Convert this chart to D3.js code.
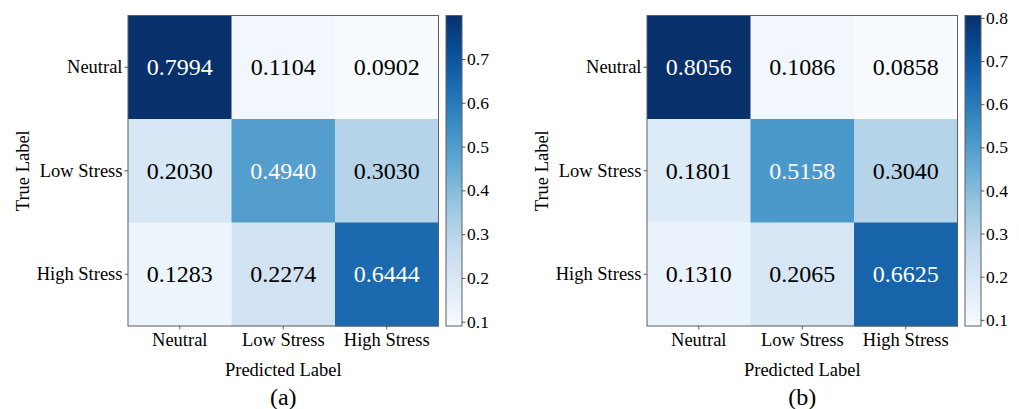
<!DOCTYPE html>
<html>
<head>
<meta charset="utf-8">
<script src="https://cdn.jsdelivr.net/npm/d3@7/dist/d3.min.js"></script>
<style>
  html, body { margin: 0; padding: 0; background: #fff; }
  svg { display: block; }
  text { font-family: "Liberation Serif", "Times New Roman", serif; fill: #000; }
</style>
</head>
<body>
<svg id="chart" width="1019" height="409"></svg>
<script>
// Class labels shared by both matrices
const classes = ["Neutral", "Low Stress", "High Stress"];

// Row-normalised confusion matrix values (rows = true, cols = predicted)
const matrixA = [
  [0.7994, 0.1104, 0.0902],
  [0.2030, 0.4940, 0.3030],
  [0.1283, 0.2274, 0.6444]
];
const matrixB = [
  [0.8056, 0.1086, 0.0858],
  [0.1801, 0.5158, 0.3040],
  [0.1310, 0.2065, 0.6625]
];

// Colour bar tick values
const colorbarTicks = [0.1, 0.2, 0.3, 0.4, 0.5, 0.6, 0.7, 0.8];

// Panel captions
const captions = ["(a)", "(b)"];

// Blues colour map, piecewise linear through the ColorBrewer stops
const bluesStops = ["#f7fbff","#deebf7","#c6dbef","#9ecae1","#6baed6","#4292c6","#2171b5","#08519c","#08306b"];
const bluesMap = d3.scaleLinear()
  .domain(d3.range(bluesStops.length).map(i => i / (bluesStops.length - 1)))
  .range(bluesStops)
  .interpolate(d3.interpolateRgb);

const svg = d3.select("#chart");
const defs = svg.append("defs");

const frameColor = "#5f5f5f";
const serif = "'Liberation Serif', 'Times New Roman', serif";

function drawPanel(matrix, caption, left, cbLeft, idx) {
  const top = 15.5, size = 310.5;
  const g = svg.append("g");

  const flat = matrix.flat();
  const vmin = d3.min(flat), vmax = d3.max(flat);
  const norm = d3.scaleLinear().domain([vmin, vmax]).range([0, 1]);
  const color = v => bluesMap(norm(v));
  const thresh = (vmin + vmax) / 2;

  const x = d3.scaleBand().domain(classes).range([left, left + size]);
  const y = d3.scaleBand().domain(classes).range([top, top + size]);

  const cells = [];
  matrix.forEach((row, i) => row.forEach((v, j) => cells.push({ t: classes[i], p: classes[j], v })));

  g.selectAll("rect.cell").data(cells).join("rect")
    .attr("class", "cell")
    .attr("x", d => x(d.p))
    .attr("y", d => y(d.t))
    .attr("width", x.bandwidth() + 0.5)
    .attr("height", y.bandwidth() + 0.5)
    .attr("fill", d => color(d.v));

  g.selectAll("text.val").data(cells).join("text")
    .attr("class", "val")
    .attr("x", d => x(d.p) + x.bandwidth() / 2)
    .attr("y", d => y(d.t) + y.bandwidth() / 2)
    .attr("text-anchor", "middle")
    .attr("dominant-baseline", "central")
    .style("font-size", "24px")
    .style("fill", d => d.v > thresh ? "#fff" : "#000")
    .text(d => d.v.toFixed(4));

  // frame
  g.append("rect")
    .attr("x", left).attr("y", top).attr("width", size).attr("height", size)
    .attr("fill", "none").attr("stroke", frameColor).attr("stroke-width", 1);

  // axes
  const xAxis = g.append("g")
    .attr("transform", `translate(0,${top + size})`)
    .call(d3.axisBottom(x).tickSize(3.5).tickPadding(1));
  const yAxis = g.append("g")
    .attr("transform", `translate(${left},0)`)
    .call(d3.axisLeft(y).tickSize(3.5).tickPadding(2));
  [xAxis, yAxis].forEach(a => {
    a.select(".domain").remove();
    a.selectAll(".tick line").attr("stroke", "#333").attr("stroke-width", 0.8);
    a.selectAll(".tick text").style("font-size", "18.5px").attr("fill", "#000")
      .style("font-family", serif);
  });
  yAxis.selectAll(".tick text").attr("dy", "0.32em");
  xAxis.selectAll(".tick text").attr("dy", "0.85em");

  // axis titles
  g.append("text")
    .attr("x", left + size / 2).attr("y", 376)
    .attr("text-anchor", "middle")
    .style("font-size", "18.5px")
    .text("Predicted Label");
  g.append("text")
    .attr("transform", `translate(${left - 99},${top + size / 2}) rotate(-90)`)
    .attr("text-anchor", "middle")
    .style("font-size", "18.5px")
    .text("True Label");

  // caption
  g.append("text")
    .attr("x", left + size / 2).attr("y", 405)
    .attr("text-anchor", "middle")
    .style("font-size", "24px")
    .text(caption);

  // colour bar
  const cbW = 16;
  const cbScale = d3.scaleLinear().domain([vmin, vmax]).range([top + size, top]);
  const gradId = "cbgrad" + idx;
  const grad = defs.append("linearGradient")
    .attr("id", gradId).attr("x1", 0).attr("y1", 1).attr("x2", 0).attr("y2", 0);
  d3.range(0, 1.0001, 0.05).forEach(t => {
    grad.append("stop").attr("offset", t).attr("stop-color", bluesMap(t));
  });
  g.append("rect")
    .attr("x", cbLeft).attr("y", top).attr("width", cbW).attr("height", size)
    .attr("fill", `url(#${gradId})`)
    .attr("stroke", frameColor).attr("stroke-width", 1);

  const cbAxis = g.append("g")
    .attr("transform", `translate(${cbLeft + cbW},0)`)
    .call(d3.axisRight(cbScale)
      .tickValues(colorbarTicks.filter(v => v >= vmin - 1e-9 && v <= vmax + 1e-9))
      .tickFormat(d3.format(".1f"))
      .tickSize(3.5).tickPadding(1.5));
  cbAxis.select(".domain").remove();
  cbAxis.selectAll(".tick line").attr("stroke", "#333").attr("stroke-width", 0.8);
  cbAxis.selectAll(".tick text").style("font-size", "17.5px").attr("fill", "#000")
    .style("font-family", serif);
}

drawPanel(matrixA, captions[0], 128, 446, 0);
drawPanel(matrixB, captions[1], 647, 965, 1);
</script>
</body>
</html>
